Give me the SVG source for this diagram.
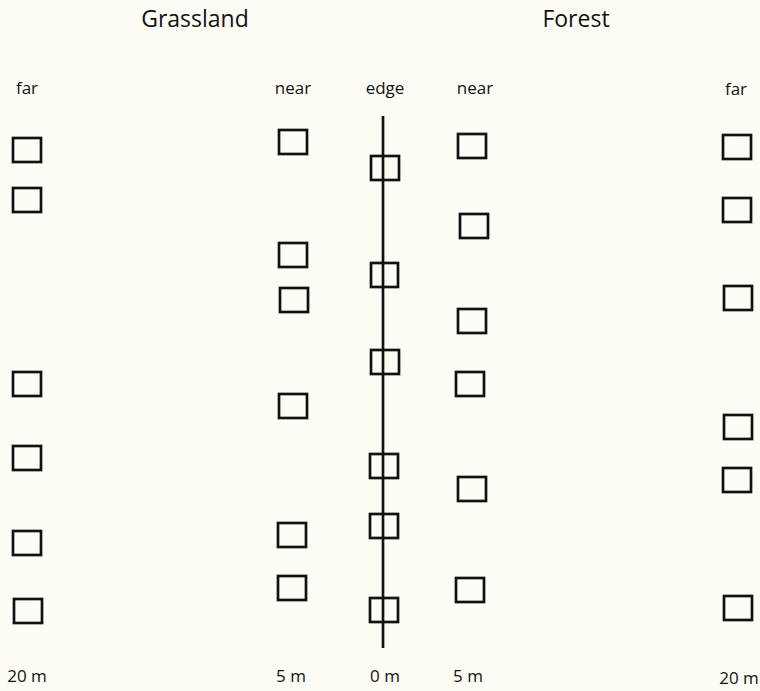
<svg xmlns="http://www.w3.org/2000/svg" width="760" height="691" viewBox="0 0 760 691">
<style>
.bg{fill:#fdfdf6}
.q{fill:none;stroke:#111;stroke-width:2.7}
.t{font-family:"Open Sans","Noto Sans",sans-serif;fill:#111;text-anchor:middle}
.h{font-size:23px}
.s{font-size:17px}
</style>
<rect class="bg" x="0" y="0" width="760" height="691"/>
<g id="titles">
<text class="t h" x="195" y="27">Grassland</text>
<text class="t h" x="576" y="27">Forest</text>
</g>
<g id="column-labels">
<text class="t s" x="27" y="94">far</text>
<text class="t s" x="293" y="94">near</text>
<text class="t s" x="385" y="94">edge</text>
<text class="t s" x="475" y="94">near</text>
<text class="t s" x="736" y="95">far</text>
</g>
<g id="distance-labels">
<text class="t s" x="27" y="682">20 m</text>
<text class="t s" x="291" y="682">5 m</text>
<text class="t s" x="385" y="682">0 m</text>
<text class="t s" x="468" y="682">5 m</text>
<text class="t s" x="739" y="684">20 m</text>
</g>
<g id="connectors">
<line x1="383" y1="116" x2="383" y2="648" stroke="#111" stroke-width="2.7"/>
</g>
<g id="grassland-far">
<rect class="q" x="13" y="138" width="28" height="24"/>
<rect class="q" x="13" y="188" width="28" height="24"/>
<rect class="q" x="13" y="372" width="28" height="24"/>
<rect class="q" x="13" y="446" width="28" height="24"/>
<rect class="q" x="13" y="531" width="28" height="24"/>
<rect class="q" x="14" y="599" width="28" height="24"/>
</g>
<g id="grassland-near">
<rect class="q" x="279" y="130" width="28" height="24"/>
<rect class="q" x="279" y="243" width="28" height="24"/>
<rect class="q" x="280" y="288" width="28" height="24"/>
<rect class="q" x="279" y="394" width="28" height="24"/>
<rect class="q" x="278" y="523" width="28" height="24"/>
<rect class="q" x="278" y="576" width="28" height="24"/>
</g>
<g id="edge">
<rect class="q" x="371" y="156" width="28" height="24"/>
<rect class="q" x="371" y="263" width="27" height="24"/>
<rect class="q" x="371" y="350" width="28" height="24"/>
<rect class="q" x="370" y="454" width="28" height="24"/>
<rect class="q" x="370" y="514" width="28" height="24"/>
<rect class="q" x="370" y="598" width="28" height="24"/>
</g>
<g id="forest-near">
<rect class="q" x="458" y="134" width="28" height="24"/>
<rect class="q" x="460" y="214" width="28" height="24"/>
<rect class="q" x="458" y="309" width="28" height="24"/>
<rect class="q" x="456" y="372" width="28" height="24"/>
<rect class="q" x="458" y="477" width="28" height="24"/>
<rect class="q" x="456" y="578" width="28" height="24"/>
</g>
<g id="forest-far">
<rect class="q" x="723" y="135" width="28" height="24"/>
<rect class="q" x="723" y="198" width="28" height="24"/>
<rect class="q" x="724" y="286" width="28" height="24"/>
<rect class="q" x="724" y="415" width="28" height="24"/>
<rect class="q" x="723" y="468" width="28" height="24"/>
<rect class="q" x="724" y="596" width="28" height="24"/>
</g>
</svg>
